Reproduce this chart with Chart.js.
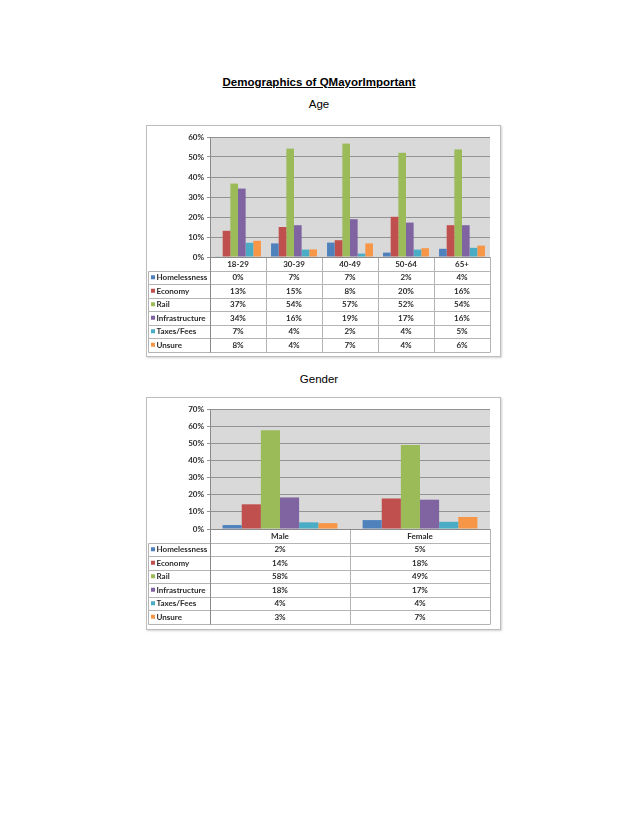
<!DOCTYPE html>
<html>
<head>
<meta charset="utf-8">
<title>Demographics of QMayorImportant</title>
<script src="https://cdn.jsdelivr.net/npm/chart.js@4.4.1/dist/chart.umd.min.js"></script>
<style>
  body { margin: 0; background: #fff; width: 638px; height: 826px; position: relative; font-family: "Liberation Sans", Arial, sans-serif; }
  .txt { position: absolute; left: 0; width: 638px; text-align: center; color: #000; font-size: 11.5px; line-height: 13px; }
  #titulo { top: 76px; font-weight: bold; text-decoration: underline; }
  #lblEdad { top: 98px; }
  #lblGenero { top: 373px; }
  .caja { position: absolute; left: 146px; width: 355px; border: 1px solid #bdbdbd; box-sizing: border-box; box-shadow: 1px 1px 2px rgba(0,0,0,.18); background: #fff; }
  .caja canvas { position: absolute; left: 0; top: 0; }
</style>
</head>
<body>
<div id="titulo" class="txt">Demographics of QMayorImportant</div>
<div id="lblEdad" class="txt">Age</div>
<div class="caja" style="top:125px;height:232px;"><canvas id="chartEdad" width="353" height="230"></canvas></div>
<div id="lblGenero" class="txt">Gender</div>
<div class="caja" style="top:397px;height:233px;"><canvas id="chartGenero" width="353" height="231"></canvas></div>

<script>
/*==========================================================
DATOS
==========================================================*/
const series = ["Homelessness", "Economy", "Rail", "Infrastructure", "Taxes/Fees", "Unsure"];
const colores = ["#4F81BD", "#C0504D", "#9BBB59", "#8064A2", "#4BACC6", "#F79646"];

// por edad (%)
const edades = ["18-29", "30-39", "40-49", "50-64", "65+"];
const edadHomelessness = [0.3, 6.8, 7.2, 2.2, 4.1];
const edadEconomy = [13.1, 15.0, 8.4, 20.1, 15.9];
const edadRail = [36.7, 54.2, 56.7, 52.1, 53.8];
const edadInfrastructure = [34.2, 15.9, 18.9, 17.2, 15.9];
const edadTaxes = [7.1, 3.7, 1.7, 3.7, 4.6];
const edadUnsure = [8.1, 3.8, 6.8, 4.4, 5.7];
const edadMaxY = 60;

// por genero (%)
const generos = ["Male", "Female"];
const generoHomelessness = [2.3, 5.2];
const generoEconomy = [14.4, 17.8];
const generoRail = [57.6, 49.0];
const generoInfrastructure = [18.4, 17.1];
const generoTaxes = [3.9, 4.2];
const generoUnsure = [3.4, 7.0];
const generoMaxY = 70;

const fuente = "Lato, 'Liberation Sans', sans-serif";

/*==========================================================
PLUGINS: fondo del area y tabla de datos
==========================================================*/
const fondoPlot = {
  id: "fondoPlot",
  beforeDraw(chart) {
    const a = chart.chartArea, ctx = chart.ctx;
    ctx.save();
    ctx.fillStyle = "#d9d9d9";
    ctx.fillRect(a.left, a.top, a.right - a.left, a.bottom - a.top);
    ctx.restore();
  }
};

const tablaDatos = {
  id: "tablaDatos",
  afterDraw(chart) {
    const ctx = chart.ctx, a = chart.chartArea, xs = chart.scales.x;
    const cats = chart.data.labels, sets = chart.data.datasets;
    const filaAlto = 13.5, izq = 1.5;
    const anchoCol = (a.right - a.left) / cats.length;
    const yFin = Math.round(a.bottom + filaAlto * (sets.length + 1)) + 0.5;
    const yCab = Math.round(a.bottom + filaAlto) + 0.5;
    ctx.save();
    ctx.lineWidth = 1;
    ctx.strokeStyle = "#b4b4b4";
    ctx.beginPath();
    for (let r = 1; r <= sets.length + 1; r++) {
      const y = Math.round(a.bottom + r * filaAlto) + 0.5;
      ctx.moveTo(izq, y);
      ctx.lineTo(a.right, y);
    }
    ctx.moveTo(izq, yCab);
    ctx.lineTo(izq, yFin);
    for (let i = 1; i <= cats.length; i++) {
      const x = Math.round(a.left + i * anchoCol) + 0.5;
      ctx.moveTo(x, a.bottom);
      ctx.lineTo(x, yFin);
    }
    ctx.stroke();
    // eje
    ctx.strokeStyle = "#8a8a8a";
    ctx.beginPath();
    const xl = Math.round(a.left) + 0.5;
    ctx.moveTo(xl, a.top);
    ctx.lineTo(xl, yFin);
    ctx.moveTo(a.left, Math.round(a.bottom) + 0.5);
    ctx.lineTo(a.right, Math.round(a.bottom) + 0.5);
    ctx.stroke();

    ctx.font = "bold 8px " + fuente;
    ctx.fillStyle = "#2b2b2b";
    ctx.textBaseline = "middle";
    ctx.textAlign = "center";
    cats.forEach((c, i) => {
      ctx.fillText(c, xs.getPixelForValue(i), a.bottom + filaAlto / 2 + 0.5);
    });
    sets.forEach((ds, r) => {
      const yc = a.bottom + filaAlto * (r + 1.5) + 0.5;
      ctx.fillStyle = ds.backgroundColor;
      ctx.fillRect(4, yc - 2.5, 4, 4);
      ctx.fillStyle = "#2b2b2b";
      ctx.textAlign = "left";
      ctx.fillText(ds.label, 9.5, yc);
      ctx.textAlign = "center";
      ds.data.forEach((v, i) => {
        ctx.fillText(Math.round(v) + "%", xs.getPixelForValue(i), yc);
      });
    });
    ctx.restore();
  }
};

/*==========================================================
GRAFICOS
==========================================================*/
function crearGrafico(idCanvas, categorias, valores, maxY) {
  const ctx = document.getElementById(idCanvas).getContext("2d");
  const alto = document.getElementById(idCanvas).height;
  return new Chart(ctx, {
    type: "bar",
    data: {
      labels: categorias,
      datasets: series.map((s, k) => ({
        label: s,
        data: valores[k],
        backgroundColor: colores[k],
        borderWidth: 0,
        barPercentage: 1,
        categoryPercentage: 0.82
      }))
    },
    options: {
      responsive: false,
      animation: false,
      devicePixelRatio: 1,
      layout: { padding: { left: 0, right: 10, top: 11, bottom: alto - 131 } },
      plugins: { legend: { display: false }, tooltip: { enabled: false } },
      scales: {
        x: { display: false },
        y: {
          min: 0,
          max: maxY,
          ticks: {
            stepSize: 10,
            callback: (v) => v + "%",
            color: "#2b2b2b",
            font: { family: fuente, weight: "bold", size: 8 },
            padding: 3
          },
          grid: { color: "#939393", tickLength: 3 },
          border: { color: "#8a8a8a" },
          afterFit(s) { s.width = 63; }
        }
      }
    },
    plugins: [fondoPlot, tablaDatos]
  });
}

crearGrafico("chartEdad", edades,
  [edadHomelessness, edadEconomy, edadRail, edadInfrastructure, edadTaxes, edadUnsure], edadMaxY);
crearGrafico("chartGenero", generos,
  [generoHomelessness, generoEconomy, generoRail, generoInfrastructure, generoTaxes, generoUnsure], generoMaxY);
</script>
</body>
</html>
